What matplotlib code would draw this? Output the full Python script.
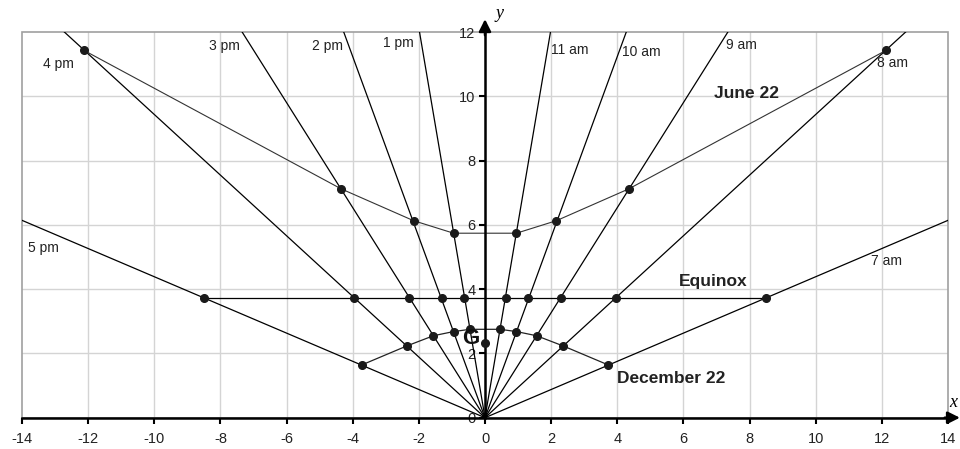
import matplotlib
matplotlib.use("Agg")
import matplotlib.pyplot as plt
from matplotlib.patches import Rectangle

plt.rcParams["axes.unicode_minus"] = False

X_TICKS = list(range(-14, 15, 2))
Y_TICKS = list(range(0, 13, 2))

# x/y ratio of each hour line, from 11 am / 1 pm out to 7 am / 5 pm
HOUR_RATIOS = [0.165, 0.356, 0.612, 1.06, 2.28]
AM_LABELS = ["11 am", "10 am", "9 am", "8 am", "7 am"]
PM_LABELS = ["1 pm", "2 pm", "3 pm", "4 pm", "5 pm"]

JUNE_X = [-12.13, -4.35, -2.16, -0.95, 0.95, 2.16, 4.35, 12.13]
JUNE_Y = [11.43, 7.12, 6.13, 5.74, 5.74, 6.13, 7.12, 11.43]

EQUINOX_X = [-8.5, -3.96, -2.29, -1.31, -0.62, 0.62, 1.31, 2.29, 3.96, 8.5]
EQUINOX_Y = [3.73] * 10

DEC_X = [-3.73, -2.37, -1.56, -0.95, -0.45, 0.45, 0.95, 1.56, 2.37, 3.73]
DEC_Y = [1.64, 2.23, 2.55, 2.68, 2.75, 2.75, 2.68, 2.55, 2.23, 1.64]

GNOMON = (0.0, 2.32)

FONT = "Liberation Sans"


def main() -> None:
    fig = plt.figure(figsize=(9.6, 4.49), dpi=100)
    ax = fig.add_axes([22 / 960, 31.3 / 449, 926 / 960, 385.7 / 449])
    ax.set_xlim(-14, 14)
    ax.set_ylim(0, 12)

    # grid and grey frame
    for gx in X_TICKS[1:-1]:
        ax.axvline(gx, color="#d4d4d4", lw=1, zorder=0)
    for gy in Y_TICKS[1:-1]:
        ax.axhline(gy, color="#d4d4d4", lw=1, zorder=0)
    ax.add_patch(Rectangle((0, 0), 1, 1, transform=ax.transAxes, fill=False,
                           ec="#a0a0a0", lw=1.2, zorder=1, clip_on=False))

    # hour lines from the gnomon foot
    for k in HOUR_RATIOS:
        for sign in (-1, 1):
            ax.plot([0, sign * k * 30], [0, 30], color="black", lw=0.9, zorder=2)

    # date curves
    ax.plot(JUNE_X, JUNE_Y, color="#333333", lw=0.8, zorder=3)
    ax.plot(EQUINOX_X, EQUINOX_Y, color="black", lw=0.9, zorder=3)
    ax.plot(DEC_X, DEC_Y, color="#222222", lw=0.9, zorder=3)
    for xs, ys in ((JUNE_X, JUNE_Y), (EQUINOX_X, EQUINOX_Y), (DEC_X, DEC_Y)):
        ax.plot(xs, ys, "o", color="#1a1a1a", ms=5.5, zorder=4)
    ax.plot([GNOMON[0]], [GNOMON[1]], "o", color="#1a1a1a", ms=5.5, zorder=6)

    # axes through the origin
    for name in ("top", "right"):
        ax.spines[name].set_visible(False)
    ax.spines["left"].set_position(("data", 0))
    for name in ("left", "bottom"):
        ax.spines[name].set_color("black")
        ax.spines[name].set_linewidth(1.8)
        ax.spines[name].set_zorder(5)
    arrow = dict(arrowstyle="-|>", color="black", lw=1.8, mutation_scale=18,
                 shrinkA=0, shrinkB=0)
    ax.annotate("", xy=(14.36, 0), xytext=(13.9, 0), arrowprops=arrow,
                annotation_clip=False, zorder=6)
    ax.annotate("", xy=(0, 12.4), xytext=(0, 11.9), arrowprops=arrow,
                annotation_clip=False, zorder=6)

    ax.set_xticks(X_TICKS)
    ax.set_yticks(Y_TICKS)
    ax.tick_params(axis="x", direction="out", length=4, width=1.5, pad=6,
                   labelsize=10.5, colors="black")
    ax.tick_params(axis="y", direction="out", length=4, width=1.5, pad=3,
                   labelsize=10.5, colors="black")
    ax.set_xticklabels([str(v) for v in X_TICKS])
    ax.set_yticklabels([str(v) for v in Y_TICKS])
    for lab in ax.get_xticklabels() + ax.get_yticklabels():
        lab.set_fontfamily(FONT)
        lab.set_color("#222222")

    ax.text(0.45, 12.58, "y", family="Liberation Serif", style="italic",
            fontsize=13, ha="center", va="center", clip_on=False)
    ax.text(14.03, 0.46, "x", family="Liberation Serif", style="italic",
            fontsize=13, ha="left", va="center", clip_on=False)

    hour_style = dict(family=FONT, fontsize=10, ha="center", va="center",
                      color="#222222")
    am_pos = [(2.56, 11.43), (4.74, 11.38), (7.76, 11.59), (12.31, 11.04),
              (12.15, 4.89)]
    pm_pos = [(-2.62, 11.66), (-4.75, 11.56), (-7.87, 11.56), (-12.9, 10.99),
              (-13.35, 5.28)]
    for lab, (tx, ty) in zip(AM_LABELS, am_pos):
        ax.text(tx, ty, lab, **hour_style)
    for lab, (tx, ty) in zip(PM_LABELS, pm_pos):
        ax.text(tx, ty, lab, **hour_style)

    bold = dict(family=FONT, fontsize=12.5, fontweight="bold", ha="center",
                va="center", color="#222222", zorder=7)
    ax.text(7.91, 10.1, "June 22", **bold)
    ax.text(6.9, 4.24, "Equinox", **bold)
    ax.text(5.62, 1.21, "December 22", **bold)
    ax.text(-0.42, 2.47, "G", family=FONT, fontsize=16, fontweight="bold",
            ha="center", va="center", color="#111111", zorder=8)

    fig.savefig("out.png", dpi=100)


if __name__ == "__main__":
    main()
